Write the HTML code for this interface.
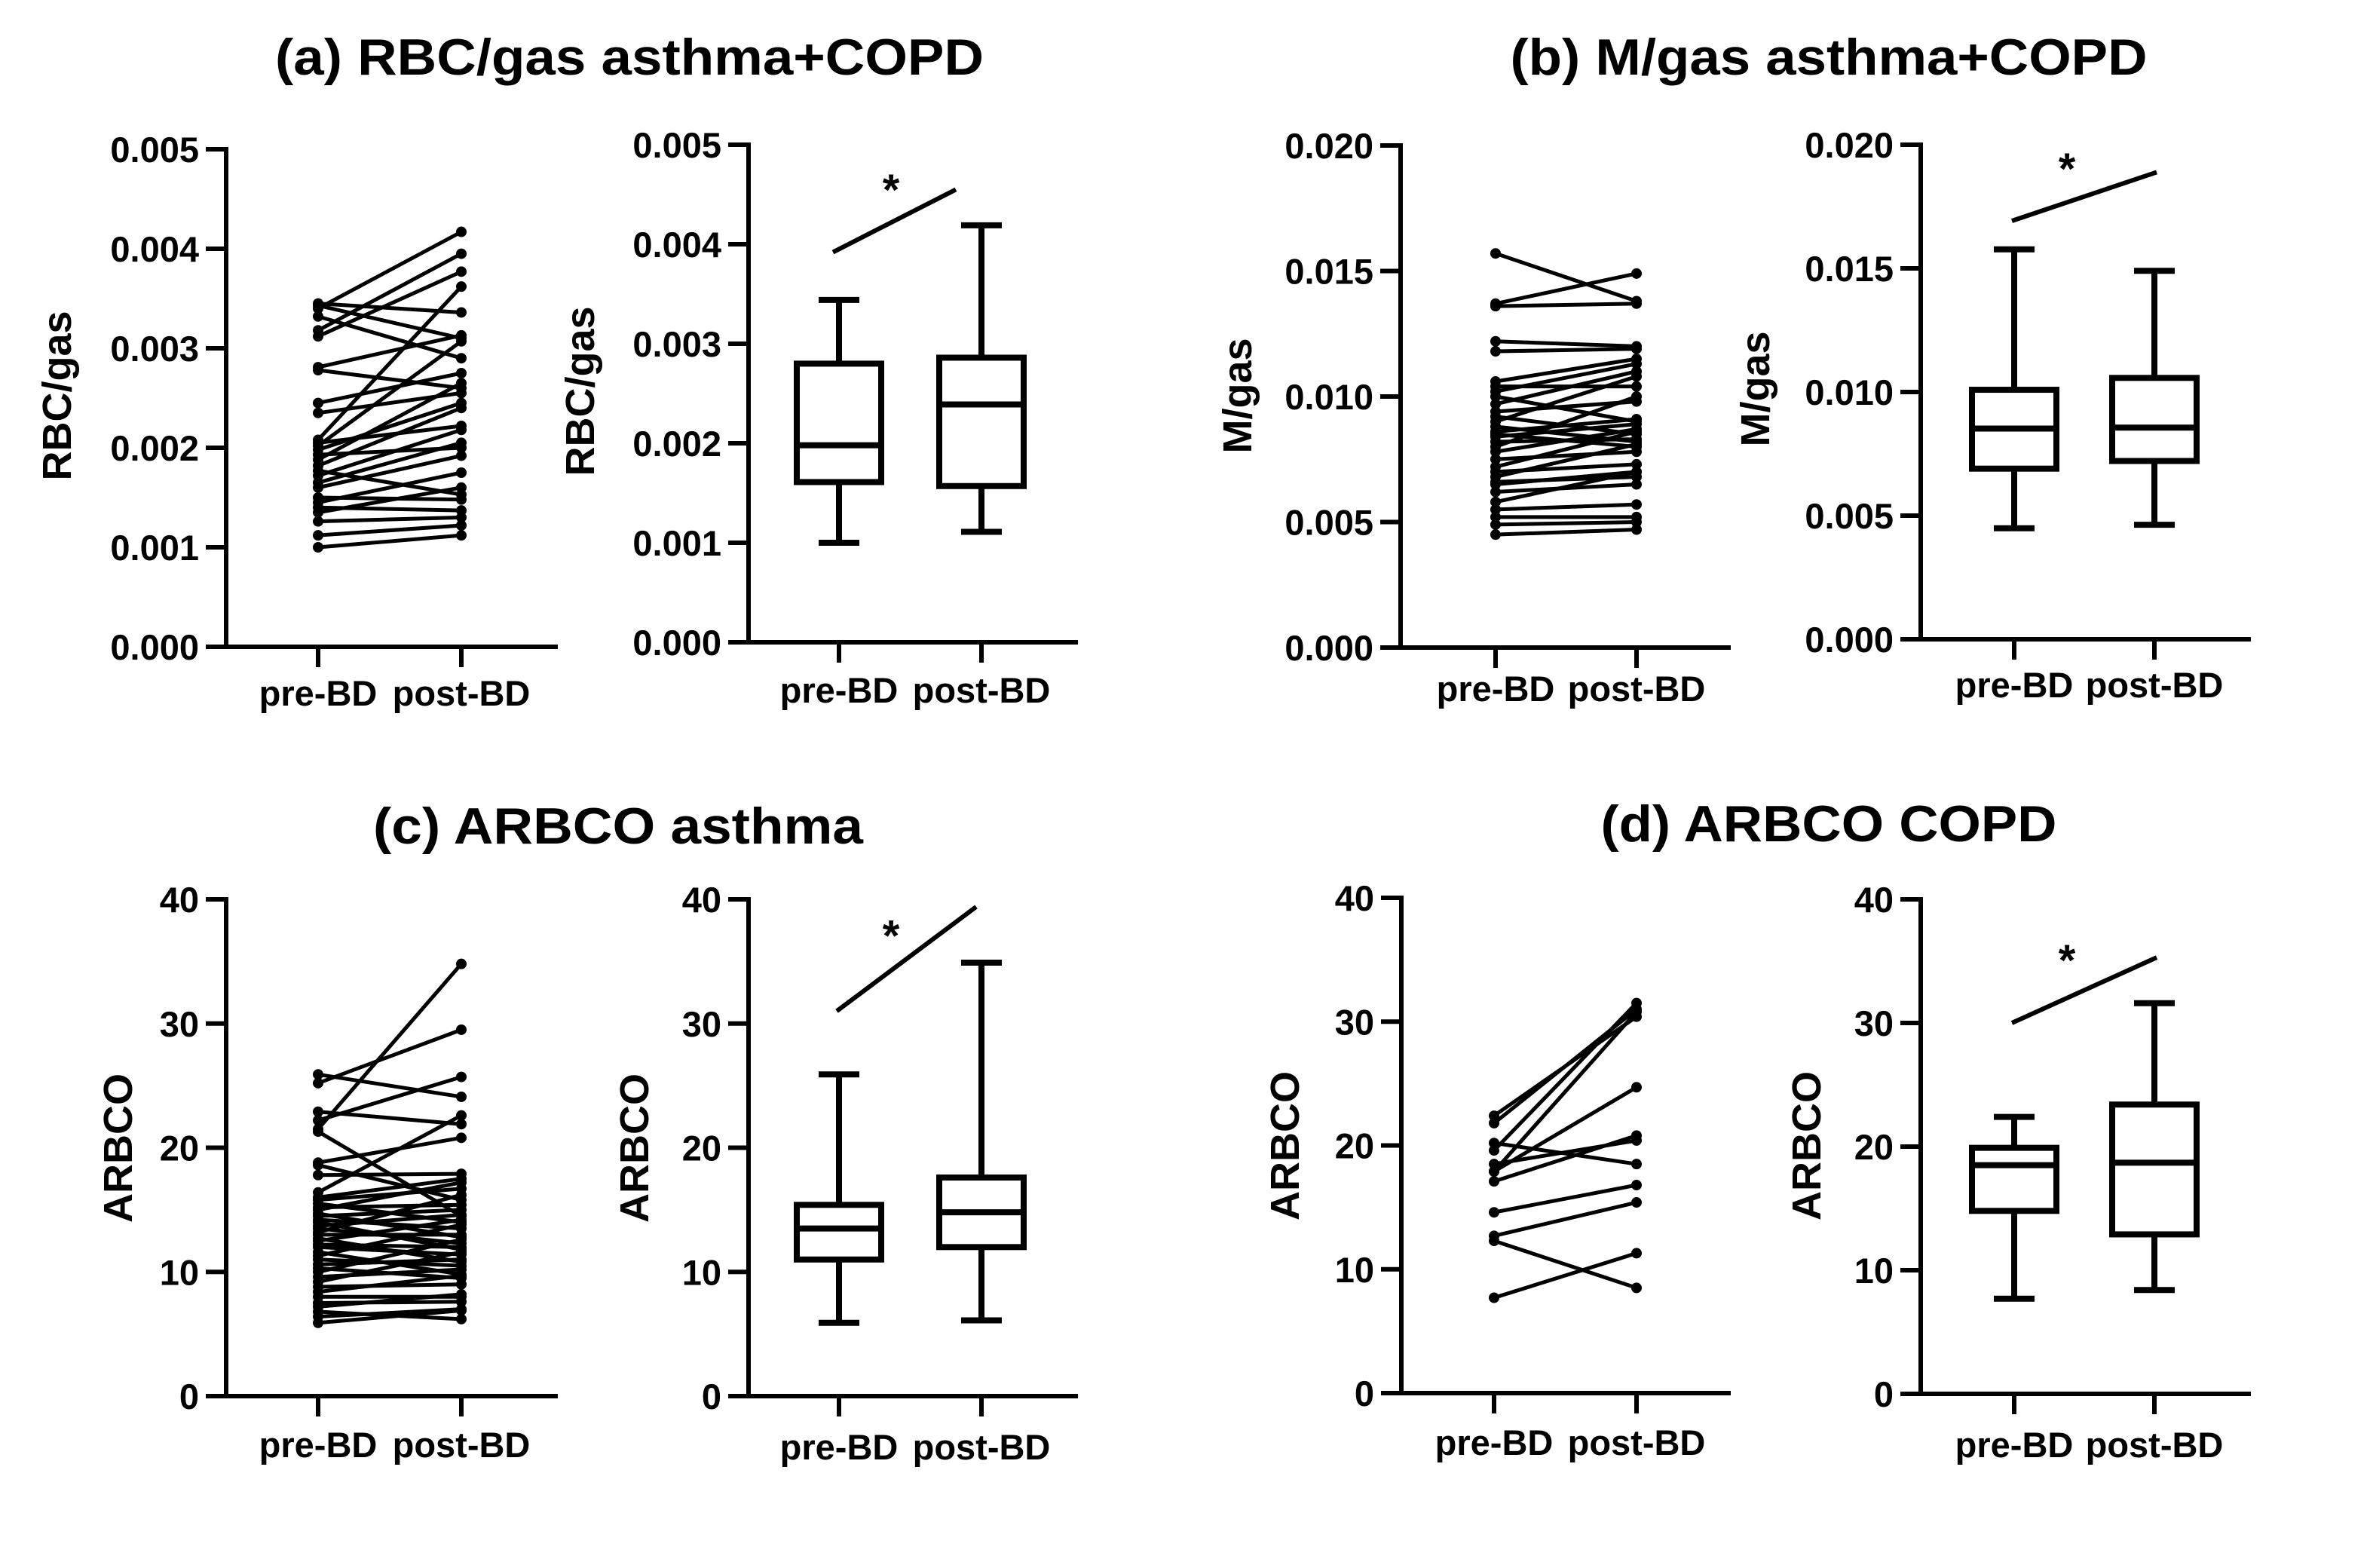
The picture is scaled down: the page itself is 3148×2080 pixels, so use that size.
<!DOCTYPE html>
<html><head><meta charset="utf-8"><style>
html,body{margin:0;padding:0;background:#fff;}
svg{display:block;}
text{font-family:"Liberation Sans",Arial,sans-serif;font-weight:bold;fill:#000;}
</style></head><body>
<svg id="fig" width="3148" height="2080" viewBox="0 0 3148 2080" xmlns="http://www.w3.org/2000/svg">
<rect width="3148" height="2080" fill="#fff"/>
<text x="835" y="99" font-size="68" text-anchor="middle" textLength="940" lengthAdjust="spacingAndGlyphs">(a) RBC/gas asthma+COPD</text>
<text x="2426" y="99" font-size="68" text-anchor="middle" textLength="845" lengthAdjust="spacingAndGlyphs">(b) M/gas asthma+COPD</text>
<text x="820" y="1119" font-size="68" text-anchor="middle" textLength="650" lengthAdjust="spacingAndGlyphs">(c) ARBCO asthma</text>
<text x="2426" y="1116" font-size="68" text-anchor="middle" textLength="605" lengthAdjust="spacingAndGlyphs">(d) ARBCO COPD</text>
</svg>
<script>
// ---- data ----
const categories = ["pre-BD", "post-BD"];
const ticksRBC = ["0.000","0.001","0.002","0.003","0.004","0.005"];
const ticksM = ["0.000","0.005","0.010","0.015","0.020"];
const ticksARBCO = ["0","10","20","30","40"];
const aPre = [.00345,.00343,.00340,.00332,.00318,.00312,.00281,.00278,.00245,.00235,.00208,.00205,.00202,.00198,.00193,.00188,.00182,.00177,.00172,.00165,.00160,.00150,.00145,.00140,.00135,.00126,.00112,.00100];
const aPost = [.00336,.00310,.00417,.00290,.00395,.00377,.00313,.00260,.00275,.00255,.00362,.00222,.00307,.00245,.00200,.00265,.00240,.00153,.00218,.00205,.00192,.00148,.00175,.00137,.00160,.00130,.00122,.00112];
const bPre = [0.0157,0.0137,0.0136,0.0122,0.0118,0.0106,0.0104,0.0102,0.0100,0.0097,0.0094,0.0092,0.0090,0.0088,0.0086,0.0085,0.0084,0.0082,0.0080,0.0078,0.0075,0.0072,0.0070,0.0068,0.0066,0.0065,0.0062,0.0058,0.0055,0.0052,0.0049,0.0045];
const bPost = [0.0138,0.0149,0.0137,0.0120,0.0119,0.0115,0.0104,0.0113,0.0090,0.0110,0.0098,0.0085,0.0108,0.0082,0.0091,0.0080,0.0089,0.0083,0.0100,0.0087,0.0078,0.0086,0.0073,0.0081,0.0068,0.0070,0.0065,0.0070,0.0057,0.0052,0.0050,0.0047];
const cPre = [25.9,25.2,22.9,22.2,21.5,21.3,18.8,18.6,17.8,16.4,16.0,15.8,15.5,15.2,15.0,14.7,14.5,14.2,14.0,13.7,13.5,13.2,13.0,12.7,12.5,12.2,12.0,11.6,11.3,11.0,10.6,10.3,10.0,9.6,9.2,8.8,8.4,8.0,7.5,7.2,6.8,6.4,5.9];
const cPost = [24.1,29.5,21.9,25.7,34.8,14.5,20.8,15.8,17.9,22.6,17.5,16.7,14.0,15.4,17.2,12.8,15.0,13.5,11.8,14.6,12.3,16.2,13.0,10.8,14.2,12.0,11.4,9.8,13.8,10.5,11.0,9.5,12.6,10.2,11.6,9.0,9.7,8.0,7.6,8.2,6.2,7.0,6.9];
const dPre = [22.4,21.8,20.2,19.6,18.5,17.9,17.9,17.1,14.6,12.7,12.3,7.7];
const dPost = [30.4,31.0,18.5,31.5,20.4,30.8,24.7,20.8,16.8,15.4,8.5,11.3];
// box stats: [min, q1, median, q3, max]
const aBoxPre = [0.00100,0.00161,0.00198,0.00280,0.00344];
const aBoxPost = [0.00111,0.00157,0.00239,0.00286,0.00419];
const bBoxPre = [0.00449,0.00690,0.00852,0.01009,0.01577];
const bBoxPost = [0.00463,0.00721,0.00856,0.01057,0.01490];
const cBoxPre = [5.9,11.0,13.5,15.4,25.9];
const cBoxPost = [6.1,12.0,14.8,17.6,34.9];
const dBoxPre = [7.7,14.8,18.5,19.9,22.4];
const dBoxPost = [8.4,12.9,18.7,23.4,31.6];
// significance line [start, end] and asterisk value
const aSig = [0.00392, 0.00455]; const aStar = 0.00465;
const bSig = [0.01692, 0.01889]; const bStar = 0.01945;
const cSig = [31.0, 39.4]; const cStar = 37.9;
const dSig = [30.0, 35.3]; const dStar = 35.9;

// ---- drawing ----
const NS = "http://www.w3.org/2000/svg";
const svg = document.getElementById("fig");
function mk(tag, attrs, parent) {
  const e = document.createElementNS(NS, tag);
  for (const k in attrs) e.setAttribute(k, attrs[k]);
  (parent || svg).appendChild(e);
  return e;
}
function makeScale(g, max) { return v => g.bottom - (v / max) * (g.bottom - g.top); }

function drawAxes(g, ticks, max, ylabel, labX, labY, xlabY, prefix) {
  const y = makeScale(g, max);
  const grp = mk("g", {});
  
  
  const yl = mk("line", {x1:g.ax, y1:g.top-3, x2:g.ax, y2:g.bottom+3, stroke:"#000","stroke-width":6}, grp);
  
  
  const xl = mk("line", {x1:g.ax-27, y1:g.bottom, x2:g.xEnd, y2:g.bottom, stroke:"#000","stroke-width":6}, grp);
  
  
  ticks.forEach(t => {
    const v = parseFloat(t), yy = y(v);
    const tl = mk("line", {x1:g.ax-27, y1:yy, x2:g.ax, y2:yy, stroke:"#000","stroke-width":6}, grp);
    
    
    const tx = mk("text", {x:g.ax-36, y:yy+17, "font-size":47, "text-anchor":"end"}, grp);
    tx.textContent = t;
    
    
  });
  [g.pre, g.post].forEach((cx, i) => {
    const tk = mk("line", {x1:cx, y1:g.bottom, x2:cx, y2:g.bottom+27, stroke:"#000","stroke-width":6}, grp);
    
    
    const tx = mk("text", {x:cx, y:xlabY, "font-size":47, "text-anchor":"middle"}, grp);
    tx.textContent = categories[i];
    
    
  });
  const lab = mk("text", {x:0, y:0, "font-size":54, "text-anchor":"middle", transform:`translate(${labX+18},${labY}) rotate(-90)`}, grp);
  lab.textContent = ylabel;
  
  
  return y;
}

function drawPairs(g, pre, post, max, prefix) {
  const y = makeScale(g, max);
  const grp = mk("g", {});
  
  
  pre.forEach((v, i) => {
    const ln = mk("line", {x1:g.pre, y1:y(v), x2:g.post, y2:y(post[i]), stroke:"#000","stroke-width":5}, grp);
    
    
  });
  pre.forEach((v, i) => {
    const c1 = mk("circle", {cx:g.pre, cy:y(v), r:7, fill:"#000"}, grp);
    
    
    const c2 = mk("circle", {cx:g.post, cy:y(post[i]), r:7, fill:"#000"}, grp);
    
    
  });
}

function drawBox(g, stats, cx, max, prefix, which) {
  const y = makeScale(g, max);
  const grp = mk("g", {});
  
  
  const hw = 56, cw = 27, sw = 8;
  const w1 = mk("line", {x1:cx, y1:y(stats[0]), x2:cx, y2:y(stats[1]), stroke:"#000","stroke-width":sw}, grp);
  
  
  const w2 = mk("line", {x1:cx, y1:y(stats[3]), x2:cx, y2:y(stats[4]), stroke:"#000","stroke-width":sw}, grp);
  
  
  const c1 = mk("line", {x1:cx-cw, y1:y(stats[0]), x2:cx+cw, y2:y(stats[0]), stroke:"#000","stroke-width":sw}, grp);
  
  
  const c2 = mk("line", {x1:cx-cw, y1:y(stats[4]), x2:cx+cw, y2:y(stats[4]), stroke:"#000","stroke-width":sw}, grp);
  
  
  const r = mk("rect", {x:cx-hw, y:y(stats[3]), width:2*hw, height:y(stats[1])-y(stats[3]), fill:"#fff", stroke:"#000","stroke-width":sw}, grp);
  
  
  const m = mk("line", {x1:cx-hw, y1:y(stats[2]), x2:cx+hw, y2:y(stats[2]), stroke:"#000","stroke-width":sw}, grp);
  
  
}

function drawSig(g, sig, star, max, x1, x2, sx, prefix) {
  const y = makeScale(g, max);
  const ln = mk("line", {x1:x1, y1:y(sig[0]), x2:x2, y2:y(sig[1]), stroke:"#000","stroke-width":6});
  
  
  const t = mk("text", {x:sx, y:y(star)+34, "font-size":58, "text-anchor":"middle"});
  t.textContent = "*";
  
  
}

const gA1 = {ax:300, top:198, bottom:858, xEnd:740, pre:422, post:612};
const gA2 = {ax:993, top:192, bottom:852, xEnd:1430, pre:1113, post:1302};
const gB1 = {ax:1858, top:193, bottom:859, xEnd:2296, pre:1984, post:2171};
const gB2 = {ax:2548, top:192, bottom:848, xEnd:2986, pre:2672, post:2858};
const gC1 = {ax:300, top:1193, bottom:1852, xEnd:740, pre:422, post:612};
const gC2 = {ax:993, top:1193, bottom:1852, xEnd:1430, pre:1113, post:1302};
const gD1 = {ax:1859, top:1191, bottom:1848, xEnd:2296, pre:1982, post:2171};
const gD2 = {ax:2548, top:1193, bottom:1849, xEnd:2986, pre:2672, post:2858};

drawAxes(gA1, ticksRBC, 0.005, "RBC/gas", 76, 525, 936, "a-paired");
drawPairs(gA1, aPre, aPost, 0.005, "a-paired");
drawAxes(gA2, ticksRBC, 0.005, "RBC/gas", 770, 519, 932, "a-box");
drawBox(gA2, aBoxPre, gA2.pre, 0.005, "a", "pre");
drawBox(gA2, aBoxPost, gA2.post, 0.005, "a", "post");
drawSig(gA2, aSig, aStar, 0.005, 1105, 1268, 1182, "a");

drawAxes(gB1, ticksM, 0.02, "M/gas", 1642, 525, 930, "b-paired");
drawPairs(gB1, bPre, bPost, 0.02, "b-paired");
drawAxes(gB2, ticksM, 0.02, "M/gas", 2329, 516, 925, "b-box");
drawBox(gB2, bBoxPre, gB2.pre, 0.02, "b", "pre");
drawBox(gB2, bBoxPost, gB2.post, 0.02, "b", "post");
drawSig(gB2, bSig, bStar, 0.02, 2669, 2861, 2742, "b");

drawAxes(gC1, ticksARBCO, 40, "ARBCO", 157, 1523, 1933, "c-paired");
drawPairs(gC1, cPre, cPost, 40, "c-paired");
drawAxes(gC2, ticksARBCO, 40, "ARBCO", 842, 1523, 1936, "c-box");
drawBox(gC2, cBoxPre, gC2.pre, 40, "c", "pre");
drawBox(gC2, cBoxPost, gC2.post, 40, "c", "post");
drawSig(gC2, cSig, cStar, 40, 1110, 1295, 1182, "c");

drawAxes(gD1, ticksARBCO, 40, "ARBCO", 1705, 1520, 1930, "d-paired");
drawPairs(gD1, dPre, dPost, 40, "d-paired");
drawAxes(gD2, ticksARBCO, 40, "ARBCO", 2397, 1520, 1933, "d-box");
drawBox(gD2, dBoxPre, gD2.pre, 40, "d", "pre");
drawBox(gD2, dBoxPost, gD2.post, 40, "d", "post");
drawSig(gD2, dSig, dStar, 40, 2669, 2861, 2742, "d");
</script>
</body></html>
